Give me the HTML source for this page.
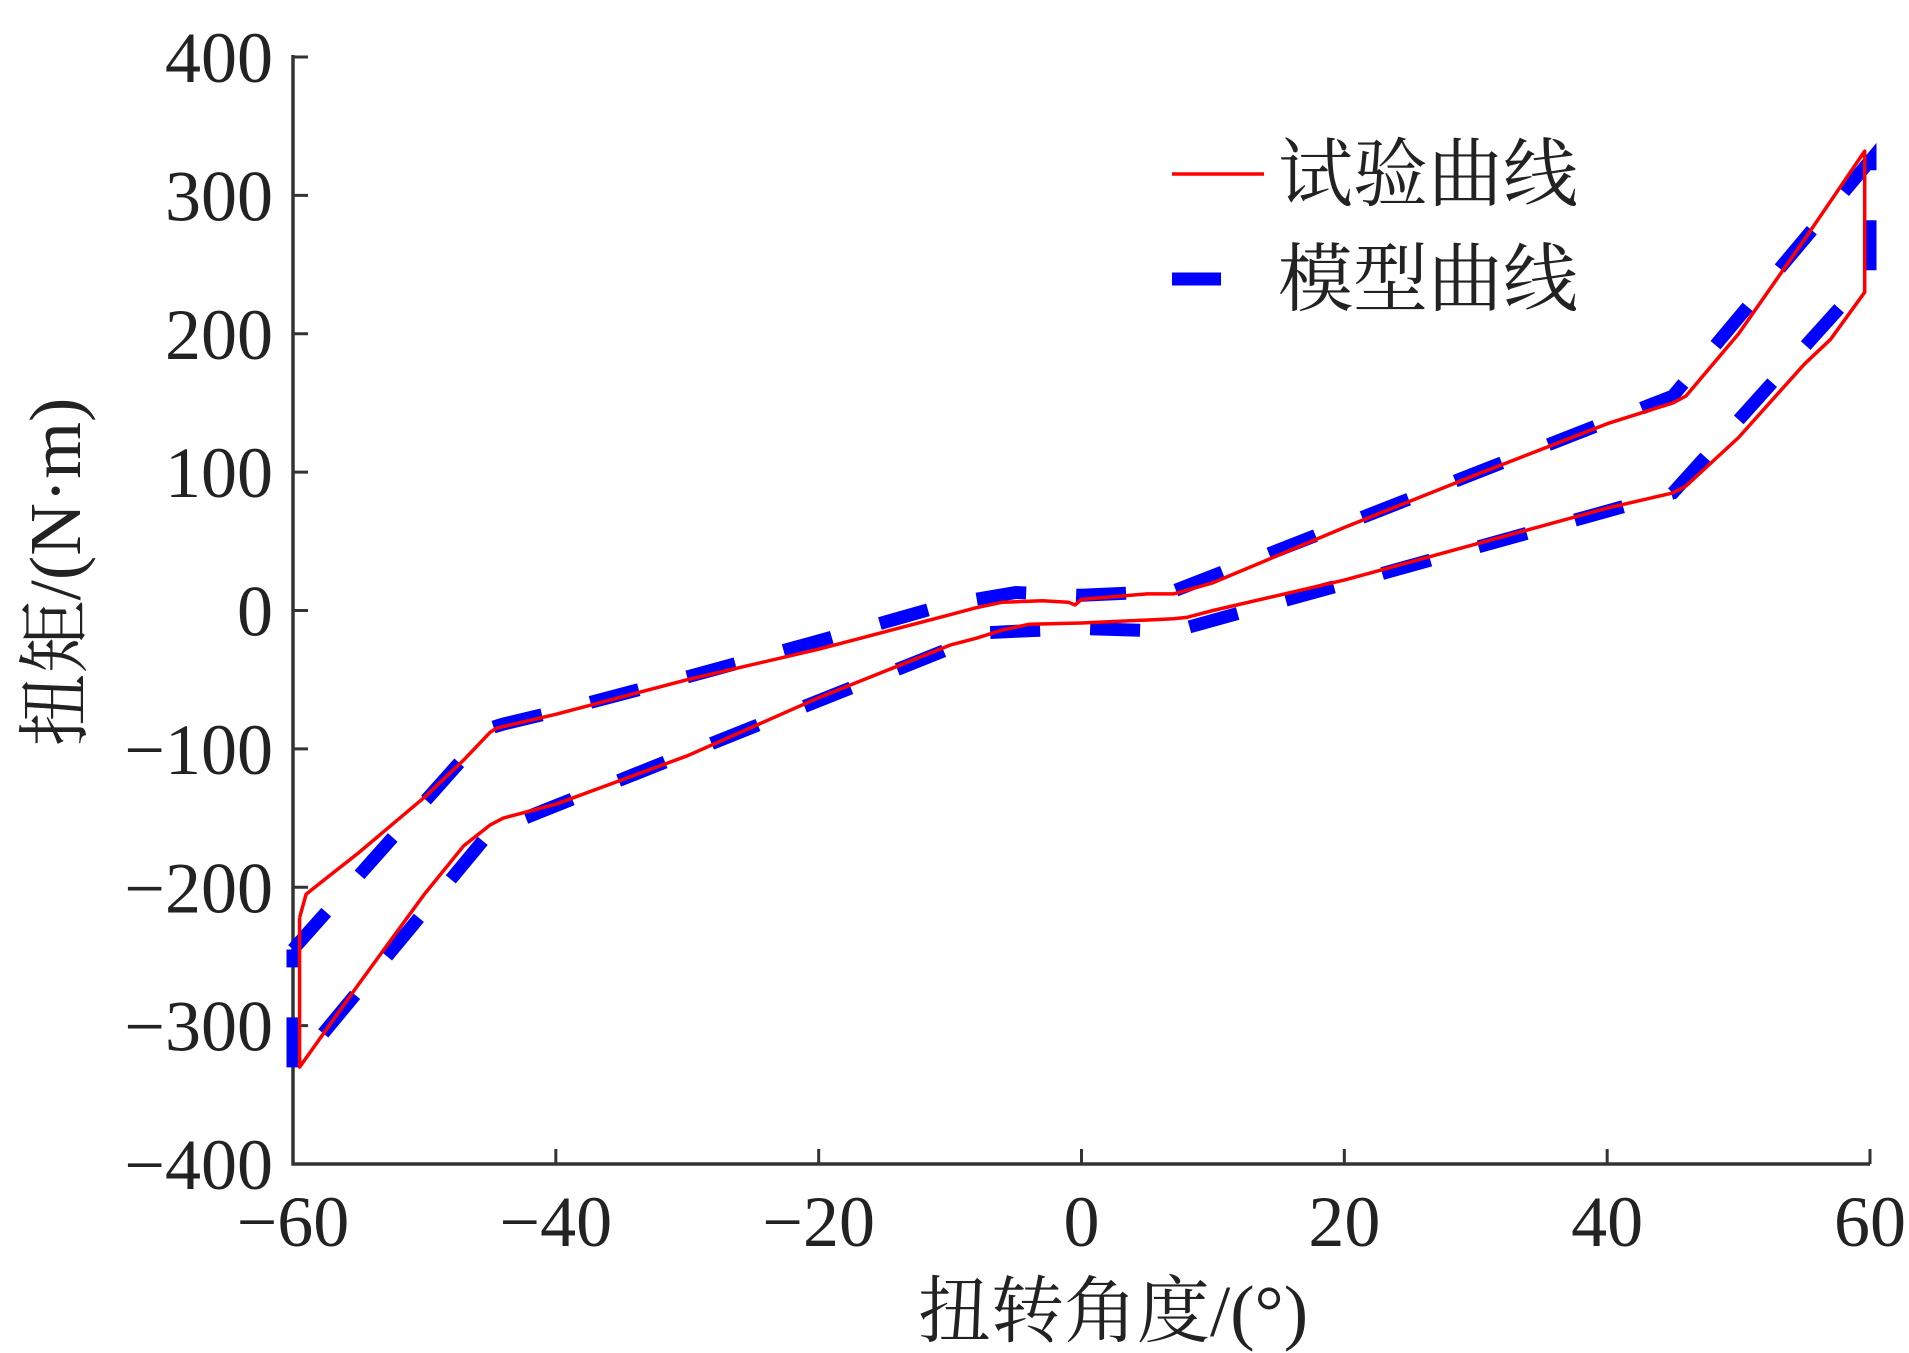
<!DOCTYPE html>
<html><head><meta charset="utf-8"><style>
html,body{margin:0;padding:0;background:#fff;}
svg{display:block;}
text{font-family:"Liberation Serif","Noto Serif CJK SC",serif;fill:#222;}
</style></head><body>
<svg id="chart" width="1909" height="1353" viewBox="0 0 1909 1353" xmlns="http://www.w3.org/2000/svg">
<g id="axes"></g>
<g id="series"></g>
<g>
  <line x1="1172" y1="174" x2="1264" y2="174" stroke="#ff0000" stroke-width="3.5"/>
  <text x="1278" y="200" font-size="75">试验曲线</text>
  <line x1="1172" y1="279" x2="1221" y2="279" stroke="#0000ff" stroke-width="13"/>
  <text x="1278" y="305" font-size="75">模型曲线</text>
</g>
<text x="1113" y="1336" font-size="73" text-anchor="middle">扭转角度/(°)</text>
<text transform="translate(80,572) rotate(-90)" font-size="73" text-anchor="middle">扭矩/(N·m)</text>
</svg>
<script>
const xTicks = [-60,-40,-20,0,20,40,60];
const yTicks = [-400,-300,-200,-100,0,100,200,300,400];
const testX = [-59.5,-59,-57,-55,-50,-47,-45,-44.5,-40,-30,-20,-10,-8,-6,-3,-1,-0.5,0,5,7,10,20,30,40,45,46,50,55,59.6,59.6,59.6,57,55,50,46,45,40,30,20,10,8,7,0,-4,-6,-8,-10,-20,-30,-40,-44,-45,-47,-50,-55,-59.5,-59.5];
const testY = [-222,-205,-190,-175,-135,-108,-88,-85,-75,-50,-28,-3,2,6,7,6,4,8,12,12,20,60,98,135,150,155,200,268,332,240,230,196,178,125,90,85,74,48,22,0,-5,-6,-9,-10,-14,-20,-25,-63,-105,-140,-150,-155,-170,-205,-270,-330,-222];
const modelX = [-60,-45,-44,-40,-30,-20,-10,-5,0,7,45,60,60,60,45,7,0,-5,-7,-45,-60,-60];
const modelY = [-245,-85,-82,-73,-48,-22,5,13,11,14,155,325,315,243,85,-15,-13,-15,-16,-160,-332,-245];

const X0=293,X1=1870,Y0=1164,Y1=57;
const sx=v=>X0+(v+60)/120*(X1-X0);
const sy=v=>Y0-(v+400)/800*(Y0-Y1);
const NS="http://www.w3.org/2000/svg";
function mk(tag,attrs,parent){const e=document.createElementNS(NS,tag);for(const k in attrs)e.setAttribute(k,attrs[k]);parent.appendChild(e);return e;}
const axes=document.getElementById('axes');
const ser=document.getElementById('series');
let a=mk('path',{d:`M${X0},${Y1-2}V${Y0}H${X1}`,fill:'none',stroke:'#333','stroke-width':3.5},axes);


xTicks.forEach(v=>{
  const t=mk('line',{x1:sx(v),x2:sx(v),y1:Y0,y2:Y0-15,stroke:'#333','stroke-width':3},axes);
  
  
  const l=mk('text',{x:sx(v),y:Y0+82,'font-size':72,'text-anchor':'middle'},axes);
  
  
  l.textContent=v<0?'\u2212'+(-v):String(v);
});
yTicks.forEach(v=>{
  const t=mk('line',{x1:X0,x2:X0+15,y1:sy(v),y2:sy(v),stroke:'#333','stroke-width':3},axes);
  
  
  const l=mk('text',{x:X0-20,y:sy(v)+25,'font-size':72,'text-anchor':'end'},axes);
  
  
  l.textContent=v<0?'\u2212'+(-v):String(v);
});
const pts=(xs,ys)=>xs.map((x,i)=>sx(x).toFixed(1)+','+sy(ys[i]).toFixed(1)).join(' ');
const m=mk('polyline',{points:pts(modelX,modelY),fill:'none',stroke:'#0000ff','stroke-width':13,'stroke-dasharray':'50 50','stroke-linejoin':'miter'},ser);


const r=mk('polyline',{points:pts(testX,testY),fill:'none',stroke:'#ff0000','stroke-width':3.5,'stroke-linejoin':'round'},ser);


</script>
</body></html>
